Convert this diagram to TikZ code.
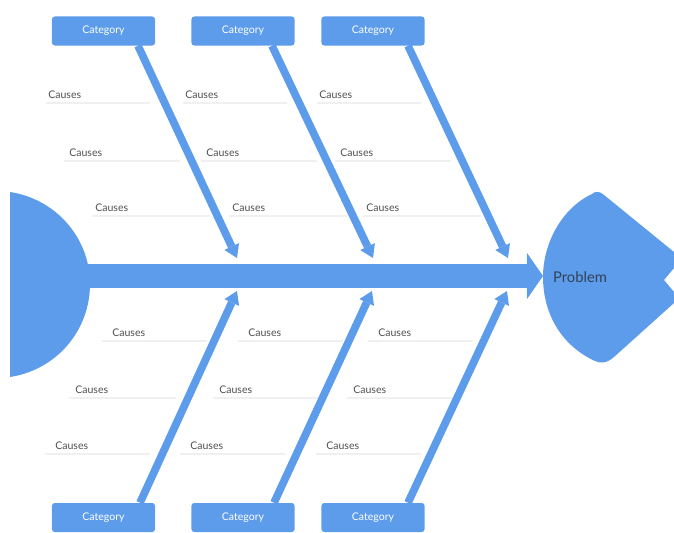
\documentclass[tikz,border=0pt]{standalone}
\usepackage{fontspec}
\setmainfont{Lato}
\usepackage{xcolor}
\usetikzlibrary{arrows.meta}
\definecolor{fishblue}{RGB}{93,156,234}
\definecolor{causegray}{RGB}{80,80,80}
\definecolor{probgray}{RGB}{50,66,88}

\begin{document}
\begin{tikzpicture}[
  x=0.025cm, y=-0.025cm,
  catnode/.style   = {rectangle, rounded corners=2pt, fill=fishblue, minimum width=2.575cm,
                 minimum height=0.725cm, inner sep=0pt, text=white, font=\fontsize{7.5}{9}\selectfont},
  cause/.style     = {anchor=west, inner sep=0pt, text=causegray, font=\fontsize{7.5}{9}\selectfont},
  causeline/.style = {draw=gray!12, line width=0.8pt},
  bone/.style  = {draw=fishblue, line width=5.5pt, -{Triangle[length=9pt, width=11.5pt, line width=0pt]}},
  spine/.style = {draw=fishblue, line width=17pt, -{Triangle[length=11.5pt, width=33pt, line width=0pt]}},
]
\useasboundingbox (0,0) rectangle (674,532);

%% --- Causes with their lines ---
\foreach \cy/\xs/\pre/\len in {95/{48,185,319}/2/104, 153/{69,206,340}/5/116, 208/{95,232,366}/3/118,
                               333/{112,248,378}/10/105, 390/{75,219,353}/6/107, 446/{55,190,326}/10/105} {
  \foreach \cx in \xs {
    \node[cause] (c\cy-\cx) at (\cx,\cy) {Causes};
    \draw[causeline] (\cx-\pre,\cy+8) -- ++(\len,0);
  }
}

%% --- Tail and head ---
\fill[fishblue] (10,192) .. controls (56,199) and (90,238) .. (90,284)
                .. controls (90,331) and (56,370) .. (10,377) -- cycle;
\fill[fishblue] (592,194) .. controls (595,191) and (600,191) .. (604,195)
                -- (674,252) -- (674,268) -- (664,280) -- (674,292) -- (674,303)
                -- (614,357) .. controls (607,363) and (601,364) .. (595,361)
                .. controls (560,345) and (543,312) .. (543,277)
                .. controls (543,243) and (562,208) .. cycle;

%% --- Category boxes ---
\foreach \i/\cx in {1/103.5, 2/243, 3/373} {
  \node[catnode] (ct\i) at (\cx,31) {Category};
  \node[catnode] (cb\i) at (\cx,517.5) {Category};
}

%% --- Spine ---
\coordinate (tail) at (85,276);
\coordinate (tip)  at (543,276);
\draw[spine] (tail) -- (tip);
\node[text=probgray, font=\fontsize{10.5}{12}\selectfont] (prob) at (580,277) {Problem};

%% --- Bones ---
\foreach \i/\tx in {1/237, 2/373, 3/508} \coordinate (jt\i) at (\tx,258);
\foreach \i/\tx in {1/237, 2/372, 3/507} \coordinate (jb\i) at (\tx,291);
\foreach \i/\bx in {1/138, 2/272, 3/408} {
  \draw[bone] (\bx,0 |- ct\i.south) -- (jt\i);
}
\foreach \i/\bx in {1/140, 2/274, 3/408} {
  \draw[bone] (\bx,0 |- cb\i.north) -- (jb\i);
}

\end{tikzpicture}
\end{document}
